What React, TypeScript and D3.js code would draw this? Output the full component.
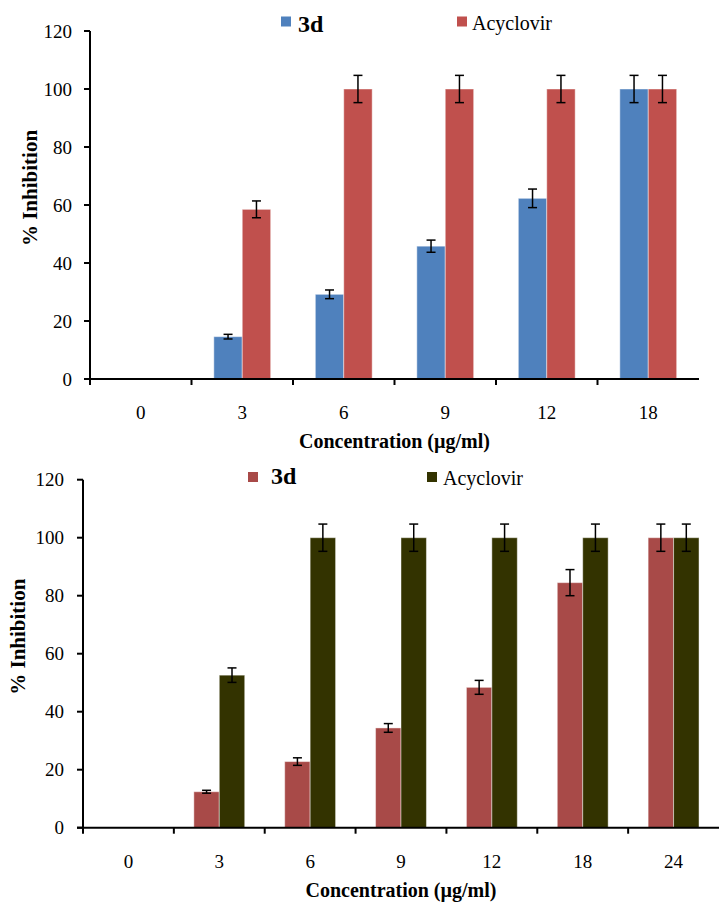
import React from "react";
import * as d3 from "d3";

const categoriesTop = ["0", "3", "6", "9", "12", "18"];
const top3d = [0, 14.6, 29.2, 45.8, 62.3, 100];
const top3dErr = [0, 0.8, 1.5, 2.1, 3.2, 4.7];
const topAcy = [0, 58.5, 100, 100, 100, 100];
const topAcyErr = [0, 2.9, 4.7, 4.7, 4.7, 4.7];

const categoriesBottom = ["0", "3", "6", "9", "12", "18", "24"];
const bot3d = [0, 12.4, 22.8, 34.4, 48.4, 84.5, 100];
const bot3dErr = [0, 0.5, 1.3, 1.5, 2.4, 4.5, 4.7];
const botAcy = [0, 52.6, 100, 100, 100, 100, 100];
const botAcyErr = [0, 2.5, 4.7, 4.7, 4.7, 4.7, 4.7];

const yTicks = [0, 20, 40, 60, 80, 100, 120];
const seriesNames = ["3d", "Acyclovir"];

const FONT = '"Liberation Serif", "Times New Roman", Times, "DejaVu Serif", serif';

type ChartProps = {
  cats: string[];
  s1: number[];
  e1: number[];
  s2: number[];
  e2: number[];
  c1: string;
  c2: string;
  x0: number;
  x1: number;
  yTop: number;
  yBot: number;
  tickLabelRight: number;
  yTitleX: number;
  legend: { sq1: number; t1: number; sq2: number; t2: number; sqY: number; b1: number; b2: number };
};

function Chart(p: ChartProps) {
  const x = d3.scaleBand<string>().domain(p.cats).range([p.x0, p.x1]).padding(0);
  const y = d3.scaleLinear().domain([0, 120]).range([p.yBot, p.yTop]);
  const bw = x.bandwidth() * 0.28;
  const capW = 9;
  const bars: React.ReactNode[] = [];
  p.cats.forEach((c, i) => {
    const cx = (x(c) as number) + x.bandwidth() / 2;
    const series = [
      { v: p.s1[i], e: p.e1[i], col: p.c1, bx: cx - bw },
      { v: p.s2[i], e: p.e2[i], col: p.c2, bx: cx },
    ];
    series.forEach((s, j) => {
      if (!s.v) return;
      const mx = s.bx + bw / 2;
      bars.push(
        <g key={`${i}-${j}`}>
          <rect x={s.bx} y={y(s.v)} width={bw} height={y(0) - y(s.v)} fill={s.col} stroke="rgba(255,255,255,0.45)" strokeWidth={1} />
          <line x1={mx} x2={mx} y1={y(s.v + s.e)} y2={y(s.v - s.e)} stroke="#000" strokeWidth={1.5} />
          <line x1={mx - capW / 2} x2={mx + capW / 2} y1={y(s.v + s.e)} y2={y(s.v + s.e)} stroke="#000" strokeWidth={1.5} />
          <line x1={mx - capW / 2} x2={mx + capW / 2} y1={y(s.v - s.e)} y2={y(s.v - s.e)} stroke="#000" strokeWidth={1.5} />
        </g>
      );
    });
  });
  const midY = (p.yTop + p.yBot) / 2 - 17;
  return (
    <g style={{ fontFamily: FONT }}>
      {bars}
      <line x1={p.x0} x2={p.x0} y1={p.yTop} y2={p.yBot + 1} stroke="#000" strokeWidth={2} />
      {yTicks.map((t) => (
        <g key={t}>
          <line x1={p.x0 - 6} x2={p.x0} y1={y(t)} y2={y(t)} stroke="#000" strokeWidth={2} />
          <text x={p.tickLabelRight} y={y(t) + 6.5} textAnchor="end" fontSize={19} fill="#000">
            {t}
          </text>
        </g>
      ))}
      <line x1={p.x0 - 6} x2={p.x1} y1={p.yBot} y2={p.yBot} stroke="#000" strokeWidth={2} />
      {p.cats.map((c) => (
        <g key={c}>
          <line x1={x(c) as number} x2={x(c) as number} y1={p.yBot} y2={p.yBot + 6} stroke="#000" strokeWidth={2} />
          <text x={(x(c) as number) + x.bandwidth() / 2} y={p.yBot + 40} textAnchor="middle" fontSize={19} fill="#000">
            {c}
          </text>
        </g>
      ))}
      <text x={(p.x0 + p.x1) / 2} y={p.yBot + 69} textAnchor="middle" fontSize={20} fontWeight="bold" fill="#000">
        Concentration (µg/ml)
      </text>
      <text
        transform={`translate(${p.yTitleX},${midY}) rotate(-90)`}
        textAnchor="middle"
        fontSize={21}
        fontWeight="bold"
        fill="#000"
      >
        % Inhibition
      </text>
      <rect x={p.legend.sq1} y={p.legend.sqY} width={10} height={10} fill={p.c1} />
      <text x={p.legend.t1} y={p.legend.b1} fontSize={24} fontWeight="bold" fill="#000">
        {seriesNames[0]}
      </text>
      <rect x={p.legend.sq2} y={p.legend.sqY} width={10} height={10} fill={p.c2} />
      <text x={p.legend.t2} y={p.legend.b2} fontSize={20} fill="#000">
        {seriesNames[1]}
      </text>
    </g>
  );
}

export default function App() {
  return (
    <svg width={719} height={907} style={{ position: "absolute", left: 0, top: 0, background: "#fff" }}>
      <rect width={719} height={907} fill="#fff" />
      <Chart
        cats={categoriesTop}
        s1={top3d}
        e1={top3dErr}
        s2={topAcy}
        e2={topAcyErr}
        c1="#4F81BD"
        c2="#C0504D"
        x0={90}
        x1={699}
        yTop={31}
        yBot={379}
        tickLabelRight={72}
        yTitleX={37}
        legend={{ sq1: 281, t1: 298, sq2: 457, t2: 472, sqY: 16.5, b1: 32, b2: 30 }}
      />
      <Chart
        cats={categoriesBottom}
        s1={bot3d}
        e1={bot3dErr}
        s2={botAcy}
        e2={botAcyErr}
        c1="#A84A48"
        c2="#333300"
        x0={83}
        x1={719}
        yTop={479.7}
        yBot={827.7}
        tickLabelRight={64}
        yTitleX={25}
        legend={{ sq1: 248, t1: 271, sq2: 427, t2: 443, sqY: 472, b1: 484, b2: 485 }}
      />
    </svg>
  );
}
